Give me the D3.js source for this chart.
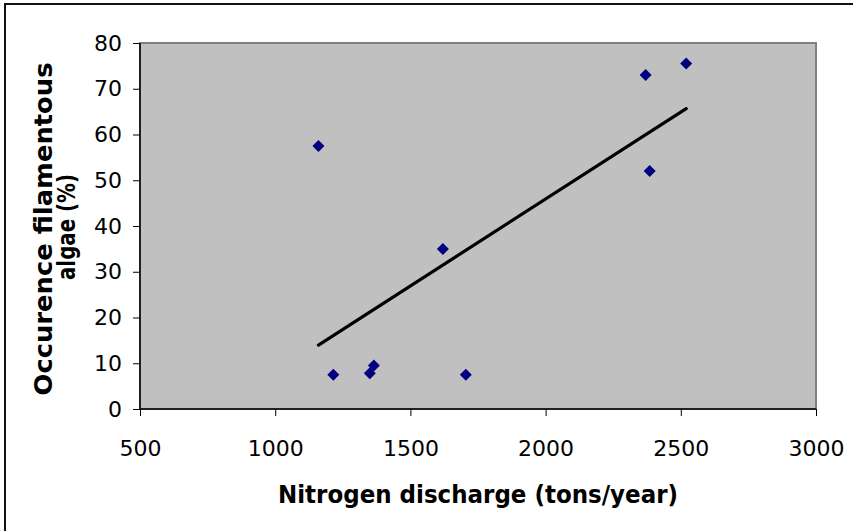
<!DOCTYPE html>
<html><head><meta charset="utf-8">
<script src="https://cdn.jsdelivr.net/npm/d3@7/dist/d3.min.js"></script>
<style>
html,body{margin:0;padding:0;background:#fff;}
svg{display:block;}
text{font-family:"DejaVu Sans",Verdana,sans-serif;fill:#000;}
</style></head>
<body>
<script>
// ---- data ----
const nitrogen = [1160, 1215, 1350, 1365, 1620, 1705, 2370, 2385, 2520];
const algae    = [57.5, 7.5, 7.8, 9.5, 35, 7.5, 73, 52, 75.5];
const xTicks = [500, 1000, 1500, 2000, 2500, 3000];
const yTicks = [0, 10, 20, 30, 40, 50, 60, 70, 80];
const xTitle = "Nitrogen discharge (tons/year)";
const yTitleLines = ["Occurence filamentous", "algae (%)"];

const W = 853, H = 531;
const svg = d3.select("body").append("svg").attr("width", W).attr("height", H);

// outer chart border
svg.append("rect").attr("x", 5).attr("y", 4).attr("width", W + 10).attr("height", H + 10)
  .attr("fill", "#fff").attr("stroke", "#111").attr("stroke-width", 2);

const L = 140, R = 816, T = 43, B = 409;
const x = d3.scaleLinear().domain([500, 3000]).range([L, R]);
const y = d3.scaleLinear().domain([0, 80]).range([B, T]);

// plot area
svg.append("rect").attr("x", L).attr("y", T).attr("width", R - L).attr("height", B - T)
  .attr("fill", "#c0c0c0").attr("stroke", "#808080").attr("stroke-width", 2);

// axes
const xAxis = svg.append("g").attr("transform", `translate(0,${B})`)
  .call(d3.axisBottom(x).tickValues(xTicks).tickSize(7).tickPadding(22).tickFormat(d3.format("d")));
const yAxis = svg.append("g").attr("transform", `translate(${L},0)`)
  .call(d3.axisLeft(y).tickValues(yTicks).tickSize(7).tickPadding(11).tickFormat(d3.format("d")));
[xAxis, yAxis].forEach(g => {
  g.attr("font-size", 22);
  g.select(".domain").attr("stroke", "#000").attr("stroke-width", 1.5);
  g.selectAll(".tick line").attr("stroke", "#000").attr("stroke-width", 1);
  g.selectAll("text").style("font-family", '"DejaVu Sans",Verdana,sans-serif')
    .style("font-size", "22px").attr("fill", "#000");
});
xAxis.select(".domain").attr("d", `M${L},0H${R}`);
xAxis.selectAll(".tick text").attr("dy", "0.71em").attr("y", 31);
yAxis.select(".domain").attr("d", `M0,${B}V${T}`);

// trend line (least squares fit of the data)
const n = nitrogen.length;
const mx = d3.mean(nitrogen), my = d3.mean(algae);
let sxy = 0, sxx = 0;
for (let i = 0; i < n; i++) { sxy += (nitrogen[i]-mx)*(algae[i]-my); sxx += (nitrogen[i]-mx)**2; }
const slope = sxy / sxx, icpt = my - slope * mx;
const xs = d3.extent(nitrogen);
svg.append("line")
  .attr("x1", x(xs[0])).attr("y1", y(icpt + slope*xs[0]))
  .attr("x2", x(xs[1])).attr("y2", y(icpt + slope*xs[1]))
  .attr("stroke", "#000").attr("stroke-width", 3.2).attr("stroke-linecap", "round");

// markers
const s = 6;
svg.append("g").selectAll("path").data(d3.zip(nitrogen, algae)).join("path")
  .attr("d", d => { const cx = x(d[0]), cy = y(d[1]);
    return `M${cx},${cy-s}L${cx+s},${cy}L${cx},${cy+s}L${cx-s},${cy}Z`; })
  .attr("fill", "#000080");

// x title
svg.append("text").attr("x", 478).attr("y", 503).attr("text-anchor", "middle")
  .attr("font-weight", "bold").attr("font-size", 24)
  .attr("textLength", 400).attr("lengthAdjust", "spacingAndGlyphs").text(xTitle);

// y title
const yt = svg.append("g").attr("transform", "translate(0,229) rotate(-90)");
yt.append("text").attr("x", 0).attr("y", 52).attr("text-anchor", "middle")
  .attr("font-weight", "bold").attr("font-size", 25)
  .attr("textLength", 333).attr("lengthAdjust", "spacingAndGlyphs").text(yTitleLines[0]);
yt.append("text").attr("x", 2).attr("y", 75).attr("text-anchor", "middle")
  .attr("font-weight", "bold").attr("font-size", 25)
  .attr("textLength", 106).attr("lengthAdjust", "spacingAndGlyphs").text(yTitleLines[1]);
</script>
</body></html>
